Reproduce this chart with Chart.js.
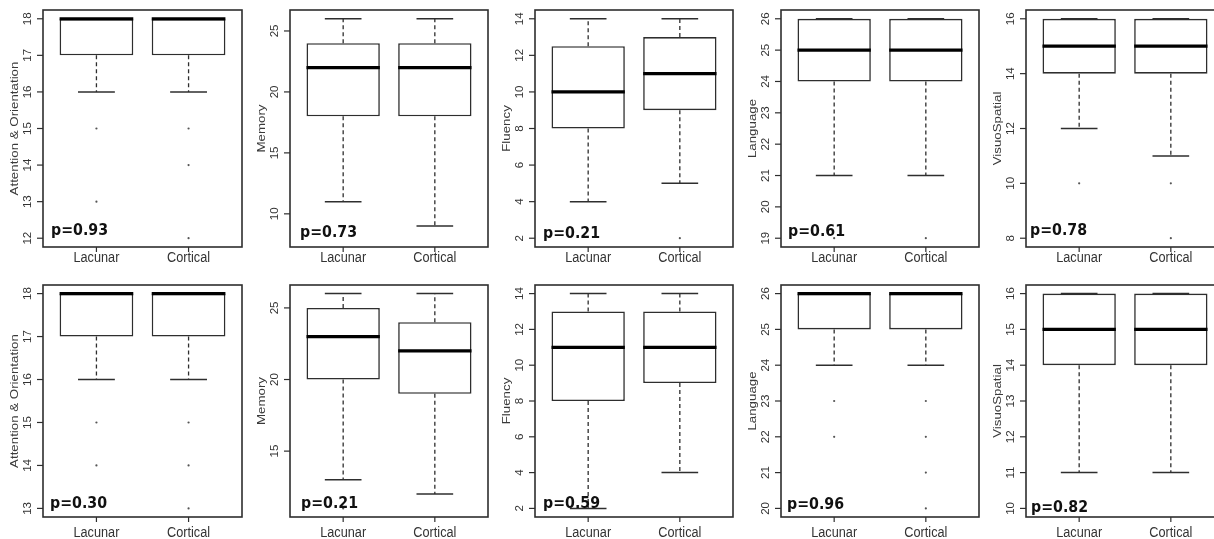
<!DOCTYPE html>
<html>
<head>
<meta charset="utf-8">
<script src="https://cdn.jsdelivr.net/npm/chart.js@4.4.1/dist/chart.umd.min.js"></script>
<style>
  html, body { margin: 0; padding: 0; background: #fff; overflow: hidden; }
  #fig { position: relative; width: 1214px; height: 539px; overflow: hidden; background: #fff; }
  #fig canvas { position: absolute; }
</style>
</head>
<body>
<div id="fig"></div>
<script>
// ---------------------------------------------------------------------------
// Data: ACE-R domain scores, lacunar vs cortical stroke
// five-number summaries are [lower whisker, Q1, median, Q3, upper whisker]
// ---------------------------------------------------------------------------
const categories = ['Lacunar', 'Cortical'];
const domainTitles = ['Attention & Orientation', 'Memory', 'Fluency', 'Language', 'VisuoSpatial'];

// upper row
const upperLacunar  = [[16, 17, 18, 18, 18], [11, 18, 22, 24, 26], [4, 8, 10, 12.5, 14], [21, 24, 25, 26, 26], [12, 14, 15, 16, 16]];
const upperCortical = [[16, 17, 18, 18, 18], [9, 18, 22, 24, 26], [5, 9, 11, 13, 14], [21, 24, 25, 26, 26], [11, 14, 15, 16, 16]];
const upperLacunarOutliers  = [[15, 13], [], [], [19], [10]];
const upperCorticalOutliers = [[15, 14, 12], [], [2], [19], [10, 8]];
const upperPValues = ['0.93', '0.73', '0.21', '0.61', '0.78'];
const upperTicks = [[12, 13, 14, 15, 16, 17, 18], [10, 15, 20, 25], [2, 4, 6, 8, 10, 12, 14], [19, 20, 21, 22, 23, 24, 25, 26], [8, 10, 12, 14, 16]];
const upperRanges = [[11.76, 18.24], [7.28, 26.72], [1.52, 14.48], [18.72, 26.28], [7.68, 16.32]];

// lower row
const lowerLacunar  = [[16, 17, 18, 18, 18], [13, 20, 23, 25, 26], [2, 8, 11, 13, 14], [24, 25, 26, 26, 26], [11, 14, 15, 16, 16]];
const lowerCortical = [[16, 17, 18, 18, 18], [12, 19, 22, 24, 26], [4, 9, 11, 13, 14], [24, 25, 26, 26, 26], [11, 14, 15, 16, 16]];
const lowerLacunarOutliers  = [[15, 14], [11], [], [23, 22], []];
const lowerCorticalOutliers = [[15, 14, 13], [], [], [23, 22, 21, 20], []];
const lowerPValues = ['0.30', '0.21', '0.59', '0.96', '0.82'];
const lowerTicks = [[13, 14, 15, 16, 17, 18], [15, 20, 25], [2, 4, 6, 8, 10, 12, 14], [20, 21, 22, 23, 24, 25, 26], [10, 11, 12, 13, 14, 15, 16]];
const lowerRanges = [[12.8, 18.2], [10.4, 26.6], [1.52, 14.48], [19.76, 26.24], [9.76, 16.24]];

// ---------------------------------------------------------------------------
// Layout and style
// ---------------------------------------------------------------------------
const COL_LEFT  = [43, 290, 535, 781, 1026];
const COL_WIDTH = [199, 198, 198, 198, 198];
const ROWS = [
  { top: 10,  height: 237, labelDrop: 15 },
  { top: 285, height: 232, labelDrop: 20 }
];
const PAD = { left: 46, top: 8, right: 4, bottom: 28 };
// p-value label: [px right of frame, baseline px above frame bottom]
const P_OFFSETS = [
  [[8, 12], [10, 10], [8, 9], [7, 11], [4, 12]],
  [[7, 9], [11, 9], [8, 9], [6, 8], [5, 5]]
];
const LINE = '#2e2e2e';
const TEXT = '#333333';
const SQUEEZE = 0.82;              // horizontal squeeze of the lettering
const SANS = '"Liberation Sans", Arial, sans-serif';

function squeezedText(ctx, str, x, y, rotate, align, baseline, sx) {
  ctx.save();
  ctx.translate(x, y);
  ctx.scale(sx === undefined ? SQUEEZE : sx, 1);
  if (rotate) ctx.rotate(-Math.PI / 2);
  ctx.textAlign = align;
  ctx.textBaseline = baseline;
  ctx.fillText(str, 0, 0);
  ctx.restore();
}

function seg(ctx, x1, y1, x2, y2) {
  ctx.beginPath();
  ctx.moveTo(x1, y1);
  ctx.lineTo(x2, y2);
  ctx.stroke();
}

// Draws whiskers, medians, frame and R-style axes on top of the floating-bar boxes
function boxPlotPlugin(cfg) {
  return {
    id: 'rBoxPlot',
    afterDatasetsDraw(chart) {
      const { ctx, scales: { y } } = chart;
      const boxes = chart.getDatasetMeta(0).data;
      cfg.stats.forEach((s, i) => {
        const bar = boxes[i];
        const cx = bar.x;
        const half = bar.width / 2;
        const cap = bar.width / 4;
        const [lo, q1, med, q3, hi] = s;
        ctx.save();
        ctx.strokeStyle = LINE;
        ctx.lineWidth = 1.3;
        ctx.setLineDash([4, 3]);
        seg(ctx, cx, y.getPixelForValue(q1), cx, y.getPixelForValue(lo));
        seg(ctx, cx, y.getPixelForValue(q3), cx, y.getPixelForValue(hi));
        ctx.setLineDash([]);
        ctx.lineWidth = 1.5;
        seg(ctx, cx - cap, y.getPixelForValue(lo), cx + cap, y.getPixelForValue(lo));
        seg(ctx, cx - cap, y.getPixelForValue(hi), cx + cap, y.getPixelForValue(hi));
        ctx.strokeStyle = '#000';
        ctx.lineWidth = 3.2;
        seg(ctx, cx - half, y.getPixelForValue(med), cx + half, y.getPixelForValue(med));
        ctx.restore();
      });
    },
    afterDraw(chart) {
      const { ctx, chartArea: a, scales: { x, y } } = chart;
      ctx.save();
      // frame
      ctx.strokeStyle = LINE;
      ctx.lineWidth = 1.6;
      ctx.strokeRect(a.left, a.top, a.right - a.left, a.bottom - a.top);
      // y axis ticks and rotated labels
      ctx.lineWidth = 1.2;
      ctx.fillStyle = TEXT;
      ctx.font = '11.5px ' + SANS;
      cfg.ticks.forEach(v => {
        const py = y.getPixelForValue(v);
        seg(ctx, a.left - 6, py, a.left, py);
        squeezedText(ctx, String(v), a.left - 15, py, true, 'center', 'middle', 1);
      });
      // x axis ticks and category labels
      ctx.font = '15.5px ' + SANS;
      categories.forEach((c, i) => {
        const px = x.getPixelForValue(i + 1);
        seg(ctx, px, a.bottom, px, a.bottom + 5);
        squeezedText(ctx, c, px, a.bottom + cfg.labelDrop, false, 'center', 'alphabetic');
      });
      // y axis title
      ctx.fillStyle = '#3a3a3a';
      ctx.font = '13.3px ' + SANS;
      squeezedText(ctx, cfg.title, a.left - 28, (a.top + a.bottom) / 2, true, 'center', 'middle');
      // p-value
      ctx.fillStyle = '#111';
      ctx.font = 'bold 16.5px "DejaVu Sans", Verdana, sans-serif';
      squeezedText(ctx, 'p=' + cfg.p, a.left + cfg.pOffset[0], a.bottom - cfg.pOffset[1], false, 'left', 'alphabetic', 0.86);
      ctx.restore();
    }
  };
}

const rowsData = [
  { lac: upperLacunar, cor: upperCortical, lacOut: upperLacunarOutliers, corOut: upperCorticalOutliers,
    p: upperPValues, ticks: upperTicks, ranges: upperRanges },
  { lac: lowerLacunar, cor: lowerCortical, lacOut: lowerLacunarOutliers, corOut: lowerCorticalOutliers,
    p: lowerPValues, ticks: lowerTicks, ranges: lowerRanges }
];

const fig = document.getElementById('fig');

rowsData.forEach((rd, r) => {
  const row = ROWS[r];
  domainTitles.forEach((title, c) => {
    const w = COL_WIDTH[c] + PAD.left + PAD.right;
    const h = row.height + PAD.top + PAD.bottom;
    const canvas = document.createElement('canvas');
    canvas.width = w;
    canvas.height = h;
    canvas.style.width = w + 'px';
    canvas.style.height = h + 'px';
    canvas.style.left = (COL_LEFT[c] - PAD.left) + 'px';
    canvas.style.top = (row.top - PAD.top) + 'px';
    fig.appendChild(canvas);

    const stats = [rd.lac[c], rd.cor[c]];
    const boxData = stats.map((s, i) => ({ x: i + 1, y: [s[1], s[3]] }));
    const outlierData = []
      .concat(rd.lacOut[c].map(v => ({ x: 1, y: v })))
      .concat(rd.corOut[c].map(v => ({ x: 2, y: v })));

    new Chart(canvas, {
      type: 'bar',
      data: {
        datasets: [
          {
            type: 'bar',
            data: boxData,
            backgroundColor: '#ffffff',
            borderColor: LINE,
            borderWidth: 1.6,
            borderSkipped: false,
            categoryPercentage: 1.0,
            barPercentage: 0.8
          },
          {
            type: 'scatter',
            data: outlierData,
            pointRadius: 1.1,
            pointBackgroundColor: '#555',
            pointBorderWidth: 0,
            showLine: false
          }
        ]
      },
      options: {
        responsive: false,
        animation: false,
        devicePixelRatio: 1,
        events: [],
        layout: { padding: { left: PAD.left, top: PAD.top, right: PAD.right, bottom: PAD.bottom } },
        plugins: { legend: { display: false }, tooltip: { enabled: false } },
        scales: {
          x: {
            type: 'linear', display: false, offset: false,
            min: 0.42, max: 2.58,
            afterBuildTicks: s => { s.ticks = [{ value: 1 }, { value: 2 }]; }
          },
          y: {
            type: 'linear', display: false,
            min: rd.ranges[c][0], max: rd.ranges[c][1],
            afterBuildTicks: s => { s.ticks = rd.ticks[c].map(v => ({ value: v })); }
          }
        }
      },
      plugins: [boxPlotPlugin({
        stats, ticks: rd.ticks[c], title, p: rd.p[c],
        pOffset: P_OFFSETS[r][c], labelDrop: row.labelDrop
      })]
    });
  });
});
</script>
</body>
</html>
